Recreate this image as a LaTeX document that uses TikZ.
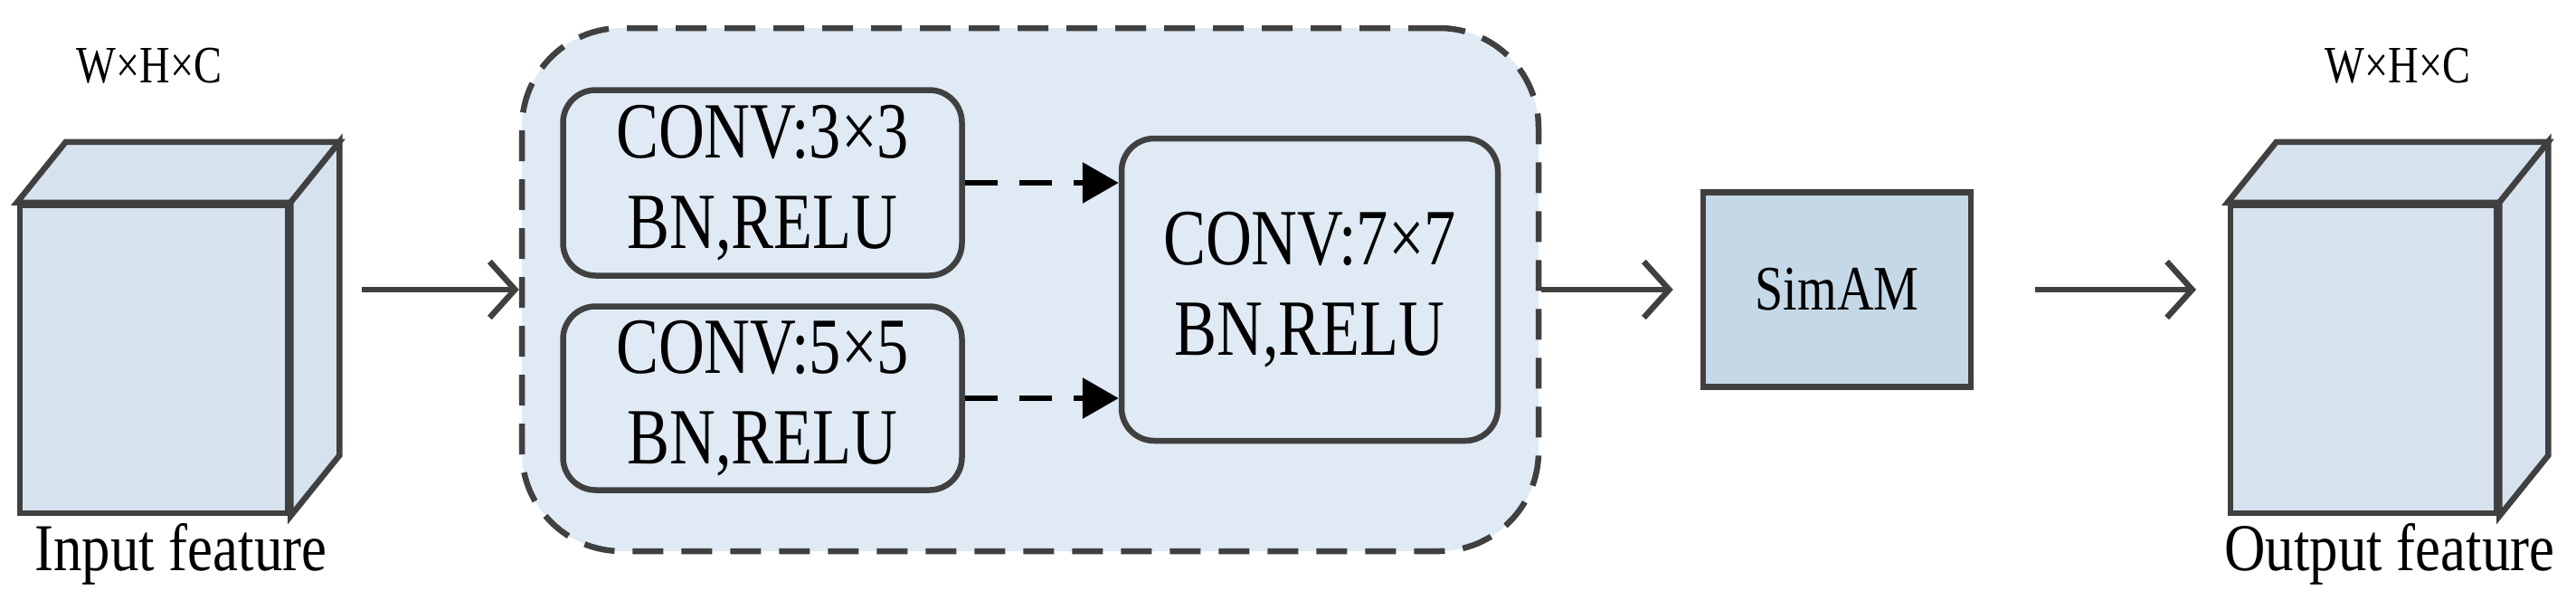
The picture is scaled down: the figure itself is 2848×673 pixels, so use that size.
\documentclass[tikz,border=0pt]{standalone}
\usepackage{fontspec}
\setmainfont{Liberation Serif}
\usetikzlibrary{arrows.meta}
\definecolor{ln}{HTML}{404040}
\definecolor{fillA}{HTML}{DFEAF4}
\definecolor{fillB}{HTML}{C5D8E8}
\definecolor{cube}{HTML}{D6E3EF}
\begin{document}
\begin{tikzpicture}[x=1pt,y=-1pt,
  lw/.style={line width=6.5pt, draw=ln},
  cnd/.style={xscale=0.8},
  txt/.style={align=center},
  rbox/.style={lw, fill=fillA, rounded corners=36pt, inner sep=0pt, txt},
  face/.style={lw, fill=cube, inner sep=0pt, line join=miter},
  flow/.style={lw, -{Straight Barb[length=28pt,width=62pt,line width=6.5pt]}},
  dflow/.style={line width=6.5pt, draw=black, dash pattern=on 36pt off 24pt, -{Triangle[length=40pt,width=44pt]}}]
\useasboundingbox (0,0) rectangle (2848,673);
% input cube
\node[face, minimum width=296pt, minimum height=340pt] (inF) at (170,397) {};
\draw[face] (inF.north west) -- ++(54,-67) -- ++(296,0) -- ([xshift=54,yshift=67]inF.north east) -- (inF.north east) -- cycle;
\draw[face] (inF.north east) -- ++(54,-67) -- ([xshift=54,yshift=67]inF.south east) -- (inF.south east) -- cycle;
\node[font=\fontsize{58}{68}\selectfont, cnd] (inDim) at (165,73) {W×H×C};
\node[font=\fontsize{74}{84}\selectfont, xscale=0.85] (inLab) at (200,612) {Input feature};
% container
\node[draw=ln, line width=6.5pt, dash pattern=on 34pt off 20pt, fill=fillA, rounded corners=110pt,
  minimum width=1124pt, minimum height=578pt] (cont) at (1139,320) {};
\node[rbox, minimum width=441pt, minimum height=205pt] (b1) at (843,202) {};
\node[font=\fontsize{88}{100}\selectfont, cnd, txt] (t1) at (b1) {CONV:3×3\\BN,RELU};
\node[rbox, minimum width=441pt, minimum height=203pt] (b2) at (843,440) {};
\node[font=\fontsize{88}{100}\selectfont, cnd, txt] (t2) at (b2) {CONV:5×5\\BN,RELU};
\node[rbox, minimum width=416pt, minimum height=334pt] (b3) at (1448,320) {};
\node[font=\fontsize{88}{100}\selectfont, cnd, txt] (t3) at (b3) {CONV:7×7\\BN,RELU};
\draw[dflow] (b1.east) -- (b3.west |- b1.east);
\draw[dflow] (b2.east) -- (b3.west |- b2.east);
% SimAM
\node[lw, fill=fillB, minimum width=296pt, minimum height=215pt] (sim) at (2031,320) {};
\node[font=\fontsize{70}{80}\selectfont, cnd] (simT) at (sim) {SimAM};
% output cube
\node[face, minimum width=294pt, minimum height=340pt] (outF) at (2613,397) {};
\draw[face] (outF.north west) -- ++(54,-67) -- ++(294,0) -- ([xshift=54,yshift=67]outF.north east) -- (outF.north east) -- cycle;
\draw[face] (outF.north east) -- ++(54,-67) -- ([xshift=54,yshift=67]outF.south east) -- (outF.south east) -- cycle;
\node[font=\fontsize{58}{68}\selectfont, cnd] (outDim) at (2651,73) {W×H×C};
\node[font=\fontsize{74}{84}\selectfont, xscale=0.85] (outLab) at (2642,612) {Output feature};
% connectors
\coordinate (s1) at (400,320);
\coordinate (e3) at (2428,320);
\draw[flow] (s1) -- (cont.west);
\draw[flow] (cont.east) -- ([xshift=-30]sim.west);
\draw[flow] ([xshift=68]sim.east) -- (e3);
\end{tikzpicture}
\end{document}
